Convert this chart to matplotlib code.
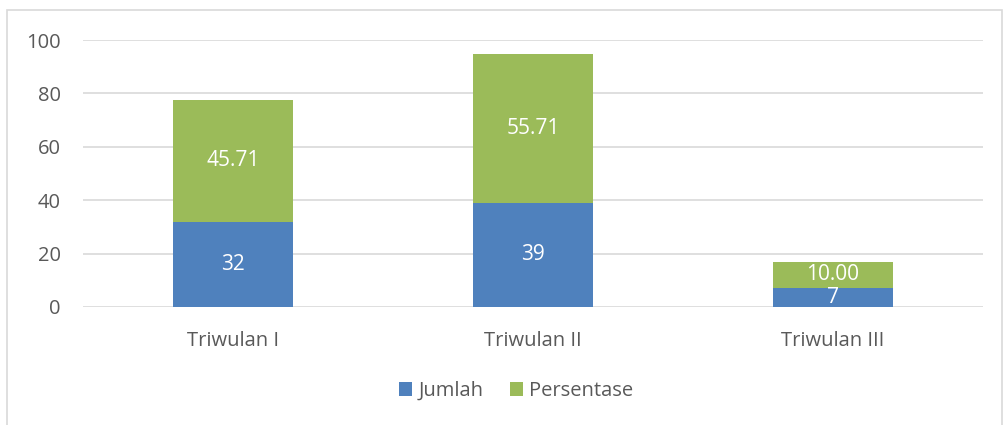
import matplotlib.pyplot as plt
from matplotlib.patches import Rectangle

# data
categories = ['Triwulan I', 'Triwulan II', 'Triwulan III']
jumlah = [32, 39, 7]
persentase = [45.71, 55.71, 10.00]
jumlah_labels = ['32', '39', '7']
persentase_labels = ['45.71', '55.71', '10.00']

blue = '#4F81BD'
green = '#9BBB59'
text_gray = '#595959'

plt.rcParams['font.family'] = ['Open Sans', 'DejaVu Sans']

fig = plt.figure(figsize=(10.07, 4.25), dpi=100)
ax = fig.add_axes([83 / 1007, 1 - 307 / 425, 900 / 1007, 267 / 425])

x = range(len(categories))
b1 = ax.bar(x, jumlah, width=0.4, color=blue, label='Jumlah', zorder=3)
b2 = ax.bar(x, persentase, width=0.4, bottom=jumlah, color=green, label='Persentase', zorder=3)

ax.bar_label(b1, labels=jumlah_labels, label_type='center', color='white', fontsize=15)
ax.bar_label(b2, labels=persentase_labels, label_type='center', color='white', fontsize=15)

ax.set_xlim(-0.5, 2.5)
ax.set_ylim(0, 100)
ax.set_yticks(range(0, 101, 20))
ax.set_xticks(list(x))
ax.set_xticklabels(categories)
ax.tick_params(axis='both', length=0, colors=text_gray, labelsize=14.5)
ax.tick_params(axis='x', pad=17)
ax.tick_params(axis='y', pad=16)
ax.yaxis.grid(True, color='#D9D9D9', linewidth=1.2, zorder=0)
for s in ax.spines.values():
    s.set_visible(False)

leg = fig.legend(handles=[b1, b2], loc='center', bbox_to_anchor=(516 / 1007, 1 - 391 / 425),
                 ncol=2, frameon=False, fontsize=14.5, handlelength=0.65, handleheight=0.65,
                 handletextpad=0.3, columnspacing=1.3)
for t in leg.get_texts():
    t.set_color(text_gray)

# chart border
fig.patches.append(Rectangle((7 / 1007, -0.01), 995 / 1007, 1 - 10 / 425 + 0.01,
                             transform=fig.transFigure, fill=False,
                             edgecolor='#D9D9D9', linewidth=1.2))

fig.savefig('out.png', dpi=100)
